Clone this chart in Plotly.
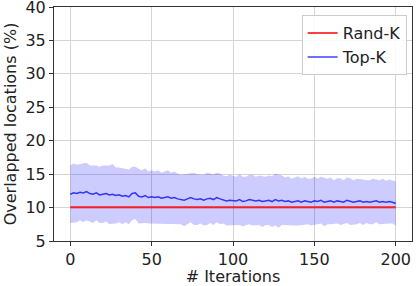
import plotly.graph_objects as go

iterations = list(range(0, 201, 2))

topk_mean = [
    12.0, 12.2, 12.1, 12.3, 12.2, 12.4, 12.1, 12.0, 12.2, 11.9,
    12.0, 12.1, 11.9, 12.0, 11.8, 11.9, 11.7, 11.8, 11.6, 12.1,
    12.2, 11.7, 11.6, 11.8, 11.5, 11.6, 11.5, 11.6, 11.4, 11.5,
    11.6, 11.4, 11.5, 11.3, 11.2, 11.1, 11.3, 11.5, 11.3, 11.2,
    11.3, 11.1, 11.3, 11.4, 11.2, 11.5, 11.3, 11.2, 11.0, 11.1,
    11.1, 11.0, 11.2, 10.9, 11.0, 11.2, 11.1, 11.0, 11.1, 10.9,
    11.0, 11.1, 10.9, 11.2, 11.0, 11.1, 10.9, 11.0, 10.8, 10.9,
    11.0, 10.8, 11.0, 10.9, 10.8, 11.0, 10.9, 11.1, 10.8, 10.9,
    11.0, 10.8, 11.0, 10.9, 10.8, 11.1, 10.9, 10.8, 10.9, 11.0,
    10.8, 10.9, 10.8, 10.9, 11.0, 10.8, 10.9, 10.8, 10.9, 10.8,
    10.6,
]

topk_std = [
    4.3, 4.4, 4.3, 4.2, 4.4, 4.3, 4.2, 4.3, 4.1, 4.2,
    4.3, 4.2, 4.4, 4.5, 4.2, 4.1, 4.2, 4.0, 4.1, 4.0,
    3.9, 4.1, 4.0, 4.1, 3.9, 4.0, 3.9, 4.0, 3.8, 3.9,
    4.0, 3.8, 3.9, 3.8, 3.7, 3.9, 3.8, 3.7, 3.9, 3.8,
    3.7, 3.8, 3.9, 3.7, 3.8, 3.7, 3.8, 3.6, 3.7, 3.8,
    3.7, 3.6, 3.8, 3.7, 3.6, 3.7, 3.8, 3.6, 3.7, 3.8,
    3.6, 3.7, 3.8, 3.9, 4.0, 3.7, 3.6, 3.7, 3.5, 3.6,
    3.7, 3.5, 3.6, 3.4, 3.5, 3.6, 3.4, 3.5, 3.6, 3.4,
    3.5, 3.3, 3.4, 3.5, 3.3, 3.4, 3.5, 3.3, 3.4, 3.3,
    3.4, 3.2, 3.3, 3.4, 3.2, 3.3, 3.4, 3.2, 3.3, 3.2,
    3.3,
]

randk_mean = [
    10.05, 10.06, 10.04, 10.05, 10.07, 10.05, 10.04, 10.06, 10.05, 10.05,
    10.06, 10.04, 10.05, 10.06, 10.05, 10.04, 10.05, 10.06, 10.05, 10.04,
    10.05, 10.06, 10.05, 10.05, 10.04, 10.06, 10.05, 10.05, 10.06, 10.04,
    10.05, 10.05, 10.06, 10.05, 10.04, 10.05, 10.06, 10.05, 10.05, 10.04,
    10.06, 10.05, 10.05, 10.04, 10.05, 10.06, 10.05, 10.04, 10.05, 10.06,
    10.05, 10.05, 10.04, 10.06, 10.05, 10.05, 10.04, 10.05, 10.06, 10.05,
    10.04, 10.05, 10.06, 10.05, 10.05, 10.04, 10.06, 10.05, 10.05, 10.04,
    10.05, 10.06, 10.05, 10.04, 10.05, 10.05, 10.06, 10.05, 10.04, 10.05,
    10.06, 10.05, 10.05, 10.04, 10.05, 10.06, 10.05, 10.05, 10.04, 10.05,
    10.06, 10.05, 10.04, 10.05, 10.05, 10.06, 10.05, 10.04, 10.05, 10.05,
    10.05,
]
randk_std = [
    0.18, 0.17, 0.18, 0.19, 0.18, 0.17, 0.18, 0.18, 0.19, 0.18,
    0.17, 0.18, 0.18, 0.19, 0.18, 0.17, 0.18, 0.18, 0.19, 0.18,
    0.17, 0.18, 0.18, 0.19, 0.18, 0.17, 0.18, 0.18, 0.19, 0.18,
    0.17, 0.18, 0.18, 0.19, 0.18, 0.17, 0.18, 0.18, 0.19, 0.18,
    0.17, 0.18, 0.18, 0.19, 0.18, 0.17, 0.18, 0.18, 0.19, 0.18,
    0.17, 0.18, 0.18, 0.19, 0.18, 0.17, 0.18, 0.18, 0.19, 0.18,
    0.17, 0.18, 0.18, 0.19, 0.18, 0.17, 0.18, 0.18, 0.19, 0.18,
    0.17, 0.18, 0.18, 0.19, 0.18, 0.17, 0.18, 0.18, 0.19, 0.18,
    0.17, 0.18, 0.18, 0.19, 0.18, 0.17, 0.18, 0.18, 0.19, 0.18,
    0.17, 0.18, 0.18, 0.19, 0.18, 0.17, 0.18, 0.18, 0.19, 0.18,
    0.18,
]

x_ticks = [0, 50, 100, 150, 200]
y_ticks = [5, 10, 15, 20, 25, 30, 35, 40]

FONT = "DejaVu Sans"
FS = 16


def band(xs, mean, std):
    up = [m + s for m, s in zip(mean, std)]
    lo = [m - s for m, s in zip(mean, std)]
    return xs + xs[::-1], up + lo[::-1]


fig = go.Figure()

bx, by = band(iterations, topk_mean, topk_std)
fig.add_trace(go.Scatter(x=bx, y=by, fill="toself", fillcolor="rgba(0,0,255,0.2)",
                         line=dict(width=0), mode="lines", showlegend=False, hoverinfo="skip"))
rx, ry = band(iterations, randk_mean, randk_std)
fig.add_trace(go.Scatter(x=rx, y=ry, fill="toself", fillcolor="rgba(255,0,0,0.2)",
                         line=dict(width=0), mode="lines", showlegend=False, hoverinfo="skip"))
fig.add_trace(go.Scatter(x=iterations, y=topk_mean, mode="lines", name="Top-K",
                         line=dict(color="rgba(0,0,255,0.75)", width=1.5), legendrank=2))
fig.add_trace(go.Scatter(x=iterations, y=randk_mean, mode="lines", name="Rand-K",
                         line=dict(color="rgba(255,0,0,0.75)", width=2), legendrank=1))

axis_common = dict(
    showgrid=True, gridcolor="#d4d4d4", gridwidth=1,
    showline=True, linecolor="#333333", linewidth=1, mirror=True,
    ticks="outside", ticklen=4, tickwidth=1, tickcolor="#333333",
    zeroline=False, automargin=False, ticklabeloverflow="allow",
    tickfont=dict(family=FONT, size=FS, color="#222222"),
    title_font=dict(family=FONT, size=FS, color="#222222"),
)

fig.update_xaxes(range=[-10, 210], tickvals=x_ticks, title_text="# Iterations",
                 title_standoff=2, **axis_common)
fig.update_yaxes(range=[5, 40], tickvals=y_ticks, title_text="Overlapped locations (%)",
                 title_standoff=4, **axis_common)

fig.update_layout(
    width=419, height=286,
    margin=dict(l=54, r=7, t=7, b=45),
    paper_bgcolor="white", plot_bgcolor="white",
    font=dict(family=FONT, size=FS, color="#222222"),
    legend=dict(
        x=0.985, y=0.965, xanchor="right", yanchor="top",
        bgcolor="rgba(255,255,255,0.85)", bordercolor="#cccccc", borderwidth=1,
        font=dict(family=FONT, size=FS, color="#222222"),
        tracegroupgap=0, itemwidth=30,
    ),
    showlegend=True,
)

fig.write_html(
    "out.html",
    config={"displayModeBar": False},
    post_script="document.body.style.margin='0';document.body.style.overflow='hidden';",
)
